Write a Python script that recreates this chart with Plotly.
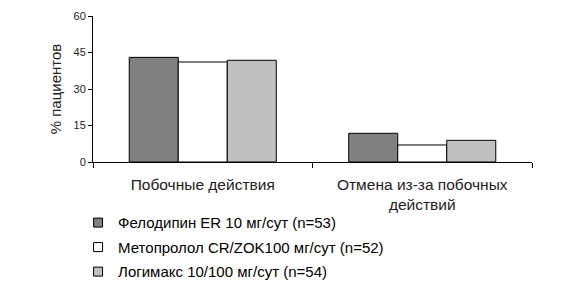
import plotly.graph_objects as go

categories = ["Побочные действия", "Отмена из-за побочных<br>действий"]
series_names = ["Фелодипин ER 10 мг/сут (n=53)",
                "Метопролол CR/ZOK100 мг/сут (n=52)",
                "Логимакс 10/100 мг/сут (n=54)"]
felodipine = [43.0, 11.8]
metoprolol = [41.1, 7.0]
logimax = [41.8, 8.9]
colors = ["#808080", "#ffffff", "#c0c0c0"]

fig = go.Figure()
for name, vals, c in zip(series_names, [felodipine, metoprolol, logimax], colors):
    fig.add_trace(go.Bar(x=categories, y=vals, name=name, showlegend=False,
                         marker=dict(color=c, line=dict(color="black", width=1))))
# legend entries with small square swatches
for i, (name, c) in enumerate(zip(series_names, colors)):
    fig.add_trace(go.Scatter(x=[None], y=[None], mode="markers", name=name,
                             legendgroup=f"g{i}",
                             marker=dict(symbol="square", size=9, color=c,
                                         line=dict(color="black", width=1))))

fig.update_layout(
    width=577, height=287,
    margin=dict(l=93, r=45, t=16, b=125),
    paper_bgcolor="white", plot_bgcolor="white",
    barmode="group", bargap=0.33, bargroupgap=0,
    font=dict(family="Liberation Sans, Arial", size=12, color="black"),
    showlegend=True,
    legend=dict(x=-0.034, y=0.281, yref="container", xanchor="left", yanchor="top",
                font=dict(size=15, color="black"), bgcolor="rgba(0,0,0,0)",
                itemwidth=30, tracegroupgap=2),
    xaxis=dict(showline=True, linecolor="black", linewidth=1,
               ticks="outside", ticklen=5, tickcolor="black",
               tickson="boundaries", tickfont=dict(size=15.5, color="#222"),
               ticklabelstandoff=8, automargin=False),
    yaxis=dict(range=[0, 60], tickvals=[0, 15, 30, 45, 60],
               showline=True, linecolor="black", linewidth=1,
               ticks="outside", ticklen=4, tickcolor="black",
               showgrid=False, zeroline=False, automargin=False,
               tickfont=dict(size=11, color="#222"),
               title=dict(text="% пациентов", font=dict(size=15, color="#222"), standoff=8)),
)
fig.write_html("out.html")
